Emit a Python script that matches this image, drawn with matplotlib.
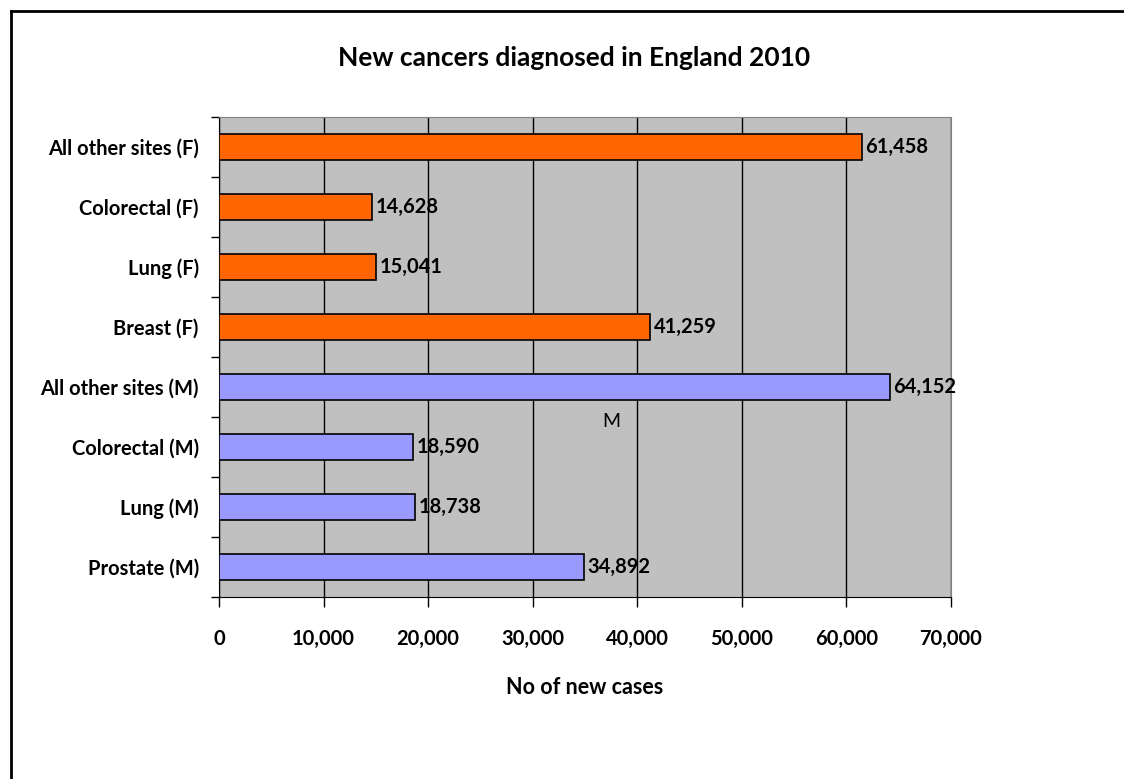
import matplotlib.pyplot as plt
from matplotlib.lines import Line2D
from matplotlib.ticker import FuncFormatter

sites = ['Prostate (M)', 'Lung (M)', 'Colorectal (M)', 'All other sites (M)',
         'Breast (F)', 'Lung (F)', 'Colorectal (F)', 'All other sites (F)']
cases = [34892, 18738, 18590, 64152, 41259, 15041, 14628, 61458]
sex = ['M', 'M', 'M', 'M', 'F', 'F', 'F', 'F']
sex_colors = {'M': '#9999FF', 'F': '#FF6600'}

plt.rcParams['font.family'] = ['Lato', 'DejaVu Sans']

fig = plt.figure(figsize=(11.24, 7.79), dpi=100)
ax = fig.add_axes([0.1948, 0.2336, 0.6512, 0.6162])

# outer frame (top and left edges only)
fig.add_artist(Line2D([11 / 1124, 1], [1 - 11 / 779, 1 - 11 / 779], color='black', lw=2))
fig.add_artist(Line2D([11 / 1124, 11 / 1124], [0, 1 - 11 / 779], color='black', lw=2))

ypos = list(range(len(sites)))
colors = [sex_colors[s] for s in sex]
ax.barh(ypos, cases, height=0.43, color=colors, edgecolor='black', linewidth=1.2, zorder=3)

for y, v in zip(ypos, cases):
    ax.text(v + 350, y, f'{v:,}', va='center', ha='left', fontsize=14.5,
            fontweight='bold', zorder=4)

ax.text(37500, 2.42, 'M', ha='center', va='center', fontsize=14, zorder=4)

ax.set_xlim(0, 70000)
ax.set_ylim(-0.5, 7.5)
ax.set_facecolor('#C0C0C0')
ax.set_xticks(range(0, 70001, 10000))
ax.xaxis.set_major_formatter(FuncFormatter(lambda x, p: f'{int(x):,}'))
ax.grid(axis='x', color='black', linewidth=1, zorder=1)

ax.set_yticks(ypos)
ax.set_yticklabels(sites)
ax.set_yticks([i - 0.5 for i in range(len(sites) + 1)], minor=True)
ax.tick_params(axis='y', which='major', length=0, pad=14.5)
ax.tick_params(axis='y', which='minor', length=6, direction='out', width=1)
ax.tick_params(axis='x', length=7, direction='out', width=1, pad=16)

for lab in ax.get_xticklabels() + ax.get_yticklabels():
    lab.set_fontweight('bold')
    lab.set_fontsize(14.5)

for side in ['top', 'right']:
    ax.spines[side].set_color('#808080')
for side in ['left', 'bottom']:
    ax.spines[side].set_color('black')

ax.set_xlabel('No of new cases', fontsize=15.5, fontweight='bold', labelpad=20)
fig.text(574 / 1124, 1 - 58 / 779, 'New cancers diagnosed in England 2010',
         ha='center', va='center', fontsize=19, fontweight='bold')

fig.savefig('out.png', dpi=100)
